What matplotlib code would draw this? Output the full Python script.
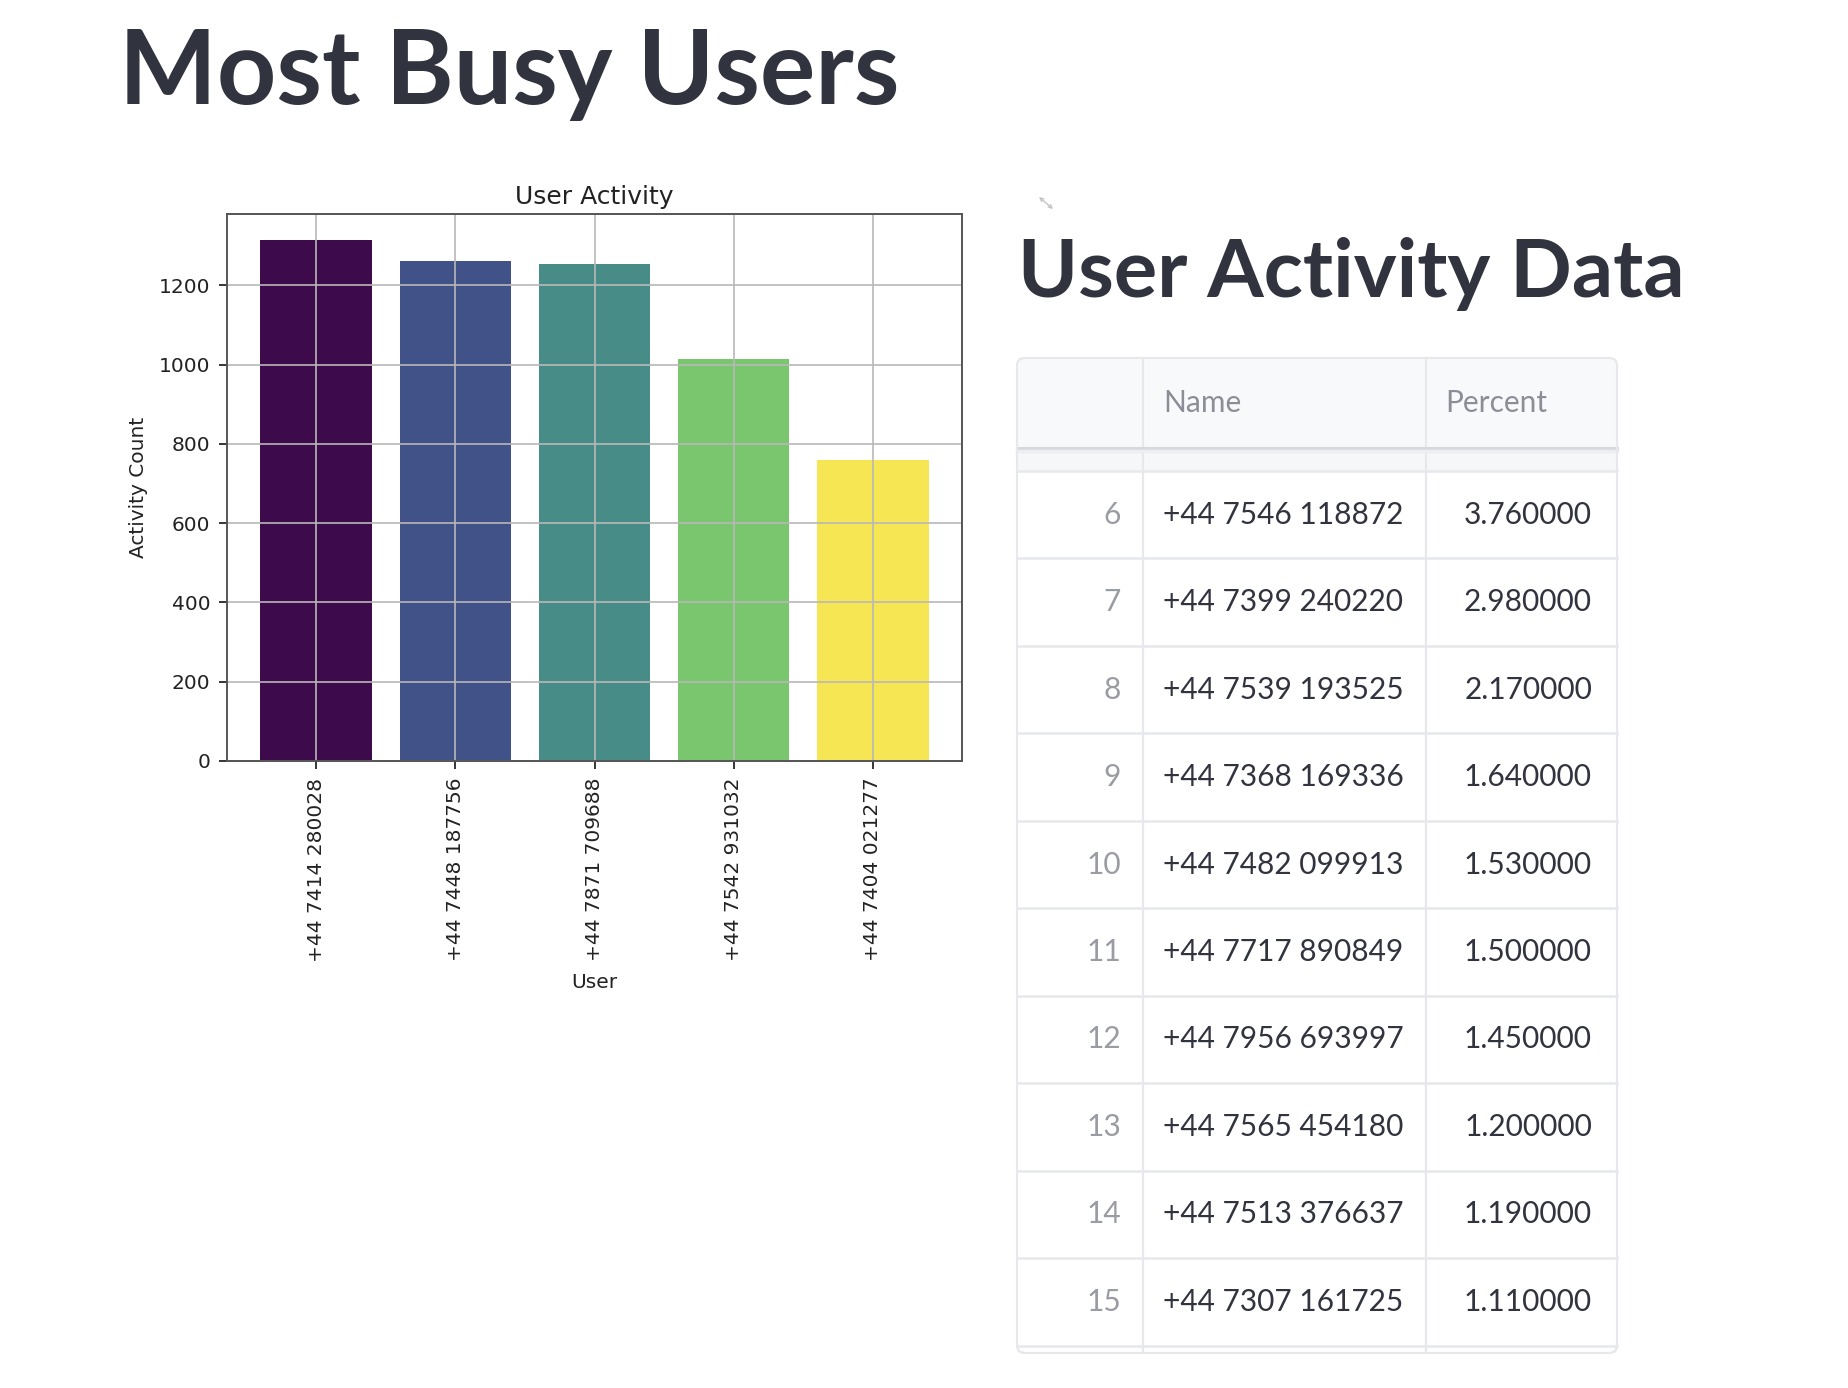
import matplotlib
matplotlib.use("Agg")
import matplotlib.pyplot as plt
from matplotlib.patches import Rectangle, FancyBboxPatch

# ---------------- data ----------------
users = ["+44 7414 280028", "+44 7448 187756", "+44 7871 709688",
         "+44 7542 931032", "+44 7404 021277"]
activity_counts = [1314, 1260, 1254, 1013, 760]

table_index = [6, 7, 8, 9, 10, 11, 12, 13, 14, 15]
table_names = ["+44 7546 118872", "+44 7399 240220", "+44 7539 193525",
               "+44 7368 169336", "+44 7482 099913", "+44 7717 890849",
               "+44 7956 693997", "+44 7565 454180", "+44 7513 376637",
               "+44 7307 161725"]
table_percent = [3.76, 2.98, 2.17, 1.64, 1.53, 1.50, 1.45, 1.20, 1.19, 1.11]
table_columns = ["Name", "Percent"]

page_title = "Most Busy Users"
chart_title = "User Activity"
table_title = "User Activity Data"

# ---------------- styles ----------------
bar_colors = ["#3d0a4b", "#405287", "#478c87", "#7ac66f", "#f6e654"]
TEXT = "#31333f"
W, H = 1848, 1388
DPI = 100

fig = plt.figure(figsize=(W / DPI, H / DPI), dpi=DPI)
fig.patch.set_facecolor("white")

# background axes in pixel coordinates (y downwards)
bg = fig.add_axes([0, 0, 1, 1])
bg.set_xlim(0, W)
bg.set_ylim(H, 0)
bg.axis("off")

# Headings
bg.text(119, 104, page_title, fontsize=74.5, fontweight="bold", family="Lato",
        color=TEXT, va="baseline", ha="left")
bg.text(1018, 297, table_title, fontsize=58.5, fontweight="bold", family="Lato",
        color=TEXT, va="baseline", ha="left")
# small resize icon (double arrow)
bg.annotate("", xy=(1053, 209), xytext=(1039, 197),
            arrowprops=dict(arrowstyle="<->", color="#c4c4c4", lw=1.0,
                            mutation_scale=6, shrinkA=0, shrinkB=0))

# ---------------- bar chart ----------------
ax = fig.add_axes([227 / W, 1 - 761 / H, (962 - 227) / W, (761 - 214) / H])
x = list(range(len(users)))
ax.bar(x, activity_counts, color=bar_colors, width=0.8)
ax.set_xticks(x)
ax.set_xticklabels(users, rotation=90, fontsize=14.5, family="DejaVu Sans", color="#222")
ax.tick_params(axis="y", labelsize=14.5, labelcolor="#222", length=6, width=1.1, pad=6)
ax.tick_params(axis="x", length=6, width=1.1, pad=6)
ax.grid(True, color="#b8b8b8", linewidth=1.2)
for s in ax.spines.values():
    s.set_color("#555555")
    s.set_linewidth(1.4)
ax.set_title(chart_title, fontsize=18, color="#222", pad=7)
ax.set_xlabel("User", fontsize=14.5, color="#222", labelpad=8)
ax.set_ylabel("Activity Count", fontsize=14.5, color="#222", labelpad=8)

# ---------------- table ----------------
tx0, tx1 = 1017, 1617
ty0, ty1 = 358, 1353
hdr_bot = 448
first_row = 471
row_h = 87.45
col1, col2 = 1143, 1426
border = "#e6e8ec"

frame = FancyBboxPatch((tx0, ty0), tx1 - tx0, ty1 - ty0,
                       boxstyle="round,pad=0,rounding_size=8",
                       facecolor="white", edgecolor=border, linewidth=1.5, zorder=1)
bg.add_patch(frame)
hdr = Rectangle((tx0, ty0), tx1 - tx0, hdr_bot - ty0, facecolor="#f8f9fb",
                edgecolor="none", zorder=2)
hdr.set_clip_path(frame)
bg.add_patch(hdr)
part = Rectangle((tx0, hdr_bot), tx1 - tx0, first_row - hdr_bot, facecolor="#f6f7f8",
                 edgecolor="none", zorder=2)
bg.add_patch(part)
# header shadow line
bg.plot([tx0, tx1], [hdr_bot, hdr_bot], color="#d6d8dd", lw=2.2, zorder=4)
bg.plot([tx0, tx1], [hdr_bot + 3, hdr_bot + 3], color="#eceef1", lw=2.5, zorder=4)
# row lines
for k in range(len(table_index) + 1):
    yy = first_row + k * row_h
    bg.plot([tx0, tx1], [yy, yy], color=border, lw=1.8, zorder=3)
# column dividers
for cx in (col1, col2):
    bg.plot([cx, cx], [ty0, ty1], color=border, lw=1.6, zorder=3)
frame2 = FancyBboxPatch((tx0, ty0), tx1 - tx0, ty1 - ty0,
                        boxstyle="round,pad=0,rounding_size=8",
                        facecolor="none", edgecolor=border, linewidth=1.5, zorder=5)
bg.add_patch(frame2)

FS = 21.5
bg.text(col1 + 20, 403, table_columns[0], fontsize=FS, family="Lato",
        color="#8b8e97", va="center", ha="left", zorder=6)
bg.text(col2 + 19, 403, table_columns[1], fontsize=FS, family="Lato",
        color="#8b8e97", va="center", ha="left", zorder=6)

for k, (idx, name, pct) in enumerate(zip(table_index, table_names, table_percent)):
    yc = first_row + (k + 0.5) * row_h
    bg.text(1121, yc, str(idx), fontsize=FS, family="Lato", color="#9a9ca4",
            va="center", ha="right", zorder=6)
    bg.text(col1 + 20, yc, name, fontsize=FS, family="Lato", color=TEXT,
            va="center", ha="left", zorder=6)
    bg.text(1592, yc, f"{pct:.6f}", fontsize=FS, family="Lato", color=TEXT,
            va="center", ha="right", zorder=6)

fig.savefig("out.png", dpi=DPI, facecolor="white")
